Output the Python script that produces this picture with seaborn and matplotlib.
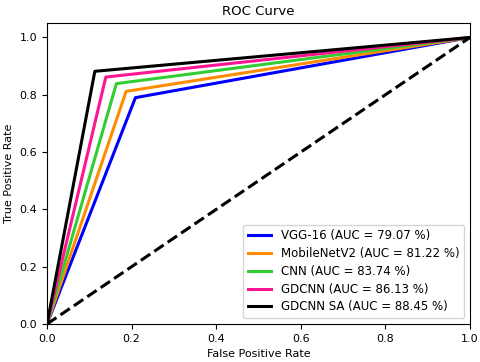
import numpy as np
import pandas as pd
import matplotlib
matplotlib.use("Agg")
import matplotlib.pyplot as plt
import seaborn as sns

# --------------------------------------------------
# Data (single operating point per model)
# --------------------------------------------------
models = ["VGG-16", "MobileNetV2", "CNN", "GDCNN", "GDCNN SA"]
auc = [79.07, 81.22, 83.74, 86.13, 88.45]
fpr_pt = [0.209, 0.187, 0.164, 0.139, 0.113]
tpr_pt = [0.790, 0.812, 0.839, 0.862, 0.882]
colors = ["blue", "darkorange", "limegreen", "deeppink", "black"]

rows = []
for m, f, t in zip(models, fpr_pt, tpr_pt):
    for x, y in [(0.0, 0.0), (f, t), (1.0, 1.0)]:
        rows.append({"model": m, "fpr": x, "tpr": y})
df = pd.DataFrame(rows)

# --------------------------------------------------
# Plot
# --------------------------------------------------
plt.rcParams["font.family"] = ["DejaVu Sans"]

fig, ax = plt.subplots(figsize=(4.8, 3.62), dpi=100)
fig.subplots_adjust(left=0.098, right=0.979, top=0.936, bottom=0.105)

for m, a, c in zip(models, auc, colors):
    sub = df[df["model"] == m]
    sns.lineplot(data=sub, x="fpr", y="tpr", ax=ax, color=c, lw=2.2,
                 label=f"{m} (AUC = {a:.2f} %)", sort=False, estimator=None)

ax.plot([0, 1], [0, 1], color="black", lw=2.2, linestyle="--")

ax.set_xlim(0.0, 1.0)
ax.set_ylim(0.0, 1.05)
ax.set_xlabel("False Positive Rate", fontsize=8)
ax.set_ylabel("True Positive Rate", fontsize=8)
ax.set_title("ROC Curve", fontsize=9.5)
ax.tick_params(labelsize=8)
ax.legend(loc="lower right", fontsize=8.5, labelspacing=0.4)

fig.savefig("out.png", dpi=100)
plt.close()
